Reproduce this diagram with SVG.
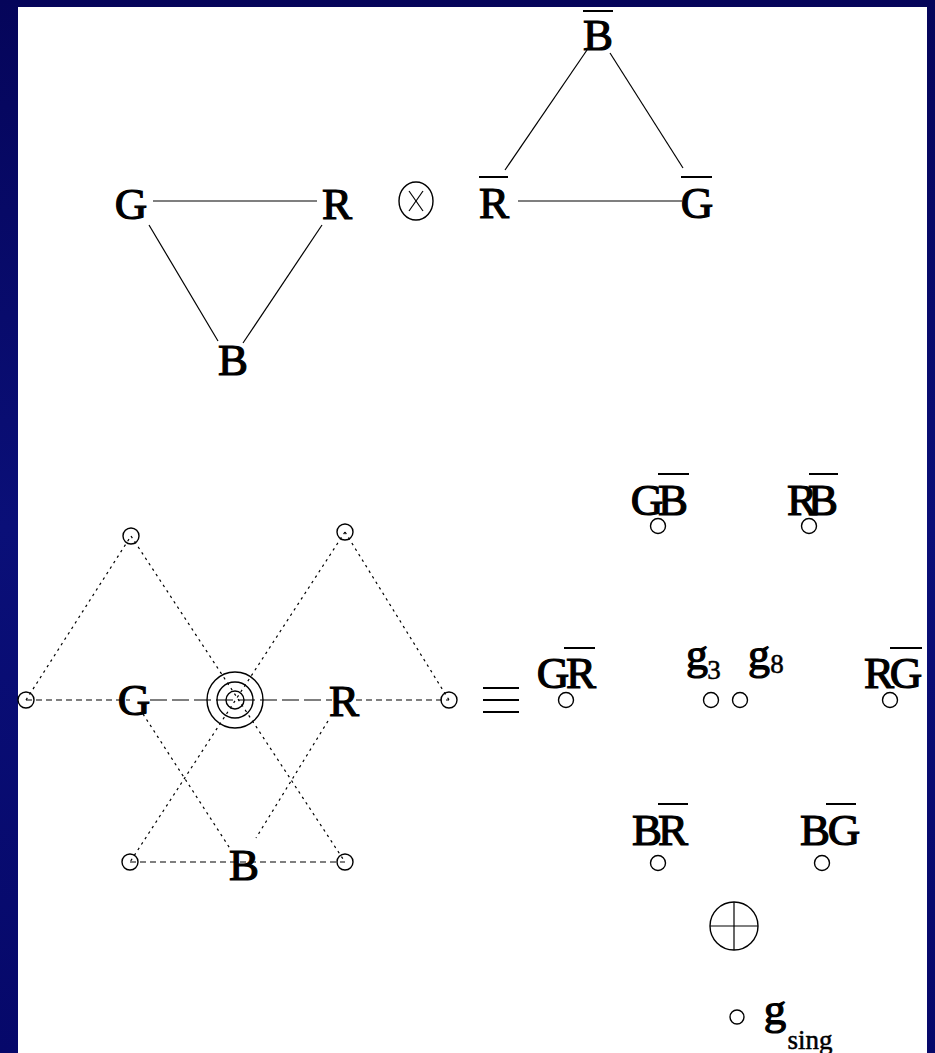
<svg xmlns="http://www.w3.org/2000/svg" width="935" height="1053" viewBox="0 0 935 1053">
<style>
.lbl{font-family:'Liberation Serif','Times New Roman',serif;font-size:45px;fill:#000;text-anchor:middle;stroke:#000;stroke-width:1.2}
.g{font-size:44px}
.sub{font-size:27px;stroke-width:0.5}
.ln{stroke:#000;stroke-width:1.2;fill:none}
.dot{stroke-dasharray:2.5 4}
.dash{stroke-dasharray:6 4}
.ldash{stroke-dasharray:17 5}
.bar{stroke:#000;stroke-width:2}
.eq{stroke:#000;stroke-width:2}
.node{fill:none;stroke:#000;stroke-width:1.4}
</style>
<defs>
<linearGradient id="bg" x1="0" y1="0" x2="0" y2="1">
<stop offset="0" stop-color="#05055a"/>
<stop offset="0.5" stop-color="#0a0f78"/>
<stop offset="1" stop-color="#06086a"/>
</linearGradient>
</defs>
<rect x="0" y="0" width="935" height="1053" fill="url(#bg)"/>
<rect x="18" y="7" width="909" height="1046" fill="#fff"/>

<g id="connectors">
<line class="ln" x1="153" y1="201" x2="317" y2="201"/>
<line class="ln" x1="149" y1="225" x2="218" y2="341"/>
<line class="ln" x1="322" y1="225" x2="243" y2="343"/>
<line class="ln" x1="518" y1="201" x2="682" y2="201"/>
<line class="ln" x1="505" y1="170" x2="587" y2="50"/>
<line class="ln" x1="610" y1="53" x2="683" y2="168"/>
<line class="ln dash" x1="26" y1="700" x2="130" y2="700"/>
<line class="ln ldash" x1="150" y1="700" x2="332" y2="700"/>
<line class="ln dash" x1="356" y1="700" x2="449" y2="700"/>
<line class="ln dash" x1="130" y1="862" x2="345" y2="862"/>
<line class="ln dot" x1="26" y1="700" x2="131" y2="536"/>
<line class="ln dot" x1="131" y1="536" x2="345" y2="862"/>
<line class="ln dot" x1="345" y1="532" x2="130" y2="862"/>
<line class="ln dot" x1="345" y1="532" x2="449" y2="700"/>
<line class="ln dot" x1="143" y1="714" x2="231" y2="850"/>
<line class="ln dot" x1="328" y1="721" x2="256" y2="838"/>
</g>

<g id="quark-G"><text class="lbl" x="131" y="219">G</text></g>
<g id="quark-R"><text class="lbl" x="337" y="219">R</text></g>
<g id="quark-B"><text class="lbl" x="233" y="375">B</text></g>

<g id="otimes">
<ellipse class="node" cx="416" cy="201" rx="17" ry="19"/>
<line class="ln" x1="409" y1="191" x2="423" y2="211"/>
<line class="ln" x1="423" y1="191" x2="409" y2="211"/>
</g>

<g id="anti-R"><text class="lbl" x="494" y="218">R</text><line class="bar" x1="479" y1="177" x2="508" y2="177"/></g>
<g id="anti-G"><text class="lbl" x="697" y="218">G</text><line class="bar" x1="681" y1="177" x2="712" y2="177"/></g>
<g id="anti-B"><text class="lbl" x="598" y="50">B</text><line class="bar" x1="583" y1="11" x2="613" y2="11"/></g>

<g id="oct-left"><circle class="node" cx="26" cy="700" r="8"/></g>
<g id="oct-topleft"><circle class="node" cx="131" cy="536" r="8"/></g>
<g id="oct-topright"><circle class="node" cx="345" cy="532" r="8"/></g>
<g id="oct-right"><circle class="node" cx="449" cy="700" r="8"/></g>
<g id="oct-botleft"><circle class="node" cx="130" cy="862" r="8"/></g>
<g id="oct-botright"><circle class="node" cx="345" cy="862" r="8"/></g>
<g id="oct-center">
<circle class="node" cx="235" cy="700" r="28"/>
<circle class="node" cx="235" cy="700" r="18"/>
<circle class="node" cx="235" cy="700" r="9"/>
</g>
<g id="oct-G"><text class="lbl" x="134" y="715">G</text></g>
<g id="oct-R"><text class="lbl" x="344" y="716">R</text></g>
<g id="oct-B"><text class="lbl" x="244" y="880">B</text></g>

<g id="equiv">
<line class="eq" x1="483" y1="688" x2="519" y2="688"/>
<line class="eq" x1="483" y1="700" x2="519" y2="700"/>
<line class="eq" x1="483" y1="712" x2="519" y2="712"/>
</g>

<g id="GBbar"><text class="lbl" x="647" y="515">G</text><text class="lbl" x="673" y="515">B</text><line class="bar" x1="658" y1="474" x2="689" y2="474"/><circle class="node" cx="658" cy="526" r="7.5"/></g>
<g id="RBbar"><text class="lbl" x="802" y="515">R</text><text class="lbl" x="823" y="515">B</text><line class="bar" x1="809" y1="474" x2="838" y2="474"/><circle class="node" cx="809" cy="526" r="7.5"/></g>
<g id="GRbar"><text class="lbl" x="553" y="688">G</text><text class="lbl" x="581" y="688">R</text><line class="bar" x1="564" y1="648" x2="595" y2="648"/><circle class="node" cx="566" cy="700" r="7.5"/></g>
<g id="g3"><text class="lbl g" x="697" y="669">g</text><text class="lbl sub" x="714" y="679">3</text><circle class="node" cx="711" cy="700" r="7.5"/></g>
<g id="g8"><text class="lbl g" x="759" y="669">g</text><text class="lbl sub" x="777" y="673">8</text><circle class="node" cx="740" cy="700" r="7.5"/></g>
<g id="RGbar"><text class="lbl" x="879" y="688">R</text><text class="lbl" x="906" y="688">G</text><line class="bar" x1="890" y1="648" x2="922" y2="648"/><circle class="node" cx="890" cy="700" r="7.5"/></g>
<g id="BRbar"><text class="lbl" x="647" y="845">B</text><text class="lbl" x="673" y="845">R</text><line class="bar" x1="658" y1="804" x2="688" y2="804"/><circle class="node" cx="658" cy="863" r="7.5"/></g>
<g id="BGbar"><text class="lbl" x="815" y="845">B</text><text class="lbl" x="844" y="845">G</text><line class="bar" x1="826" y1="804" x2="856" y2="804"/><circle class="node" cx="822" cy="863" r="7.5"/></g>

<g id="oplus">
<circle class="node" cx="734" cy="926" r="24"/>
<line class="ln" x1="710" y1="926" x2="758" y2="926"/>
<line class="ln" x1="734" y1="902" x2="734" y2="950"/>
</g>

<g id="gsing">
<circle class="node" cx="737" cy="1017" r="7"/>
<text class="lbl" x="775" y="1024">g</text>
<text class="lbl sub" x="810" y="1049">sing</text>
</g>
</svg>
